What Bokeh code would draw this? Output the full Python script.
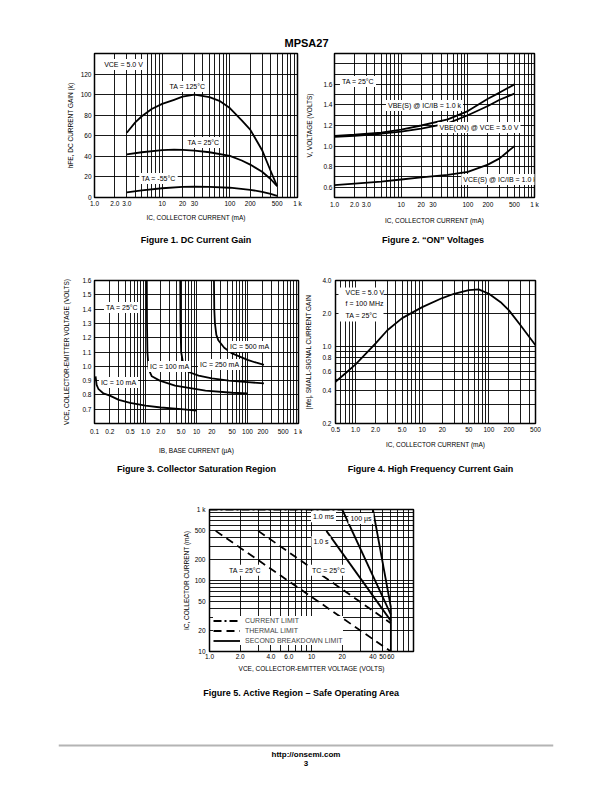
from bokeh.plotting import figure
from bokeh.models import Range1d, FixedTicker, Label, Span, BoxAnnotation, Legend
from bokeh.layouts import column, row
from bokeh.embed import file_html
from bokeh.resources import INLINE

FONT = "Liberation Sans"
TXT = "6.5px"
LBL = "7px"
PAGE_W = 604
STRIP_L = 58
STRIP_R = 553

# ---------------- Figure 1: DC current gain ----------------
f1_ic_125 = [3, 4, 5, 7, 10, 15, 20, 30, 50, 70, 100, 150, 200, 300, 400, 500]
f1_hfe_125 = [63, 73, 79, 86, 91, 95, 98, 100, 97.5, 94, 87, 75, 66, 46, 26, 11]
f1_ic_25 = [3, 5, 10, 15, 20, 30, 50, 100, 150, 200, 300, 400, 500]
f1_hfe_25 = [42, 44, 46, 46.5, 46.3, 45.5, 44, 40.5, 36, 32, 25, 18, 11]
f1_ic_m55 = [3, 5, 10, 20, 30, 50, 100, 200, 300, 400, 500]
f1_hfe_m55 = [5, 7, 9, 10.3, 10.5, 10.3, 9.5, 7.5, 5.5, 3.5, 1.5]
f1_x_ticks = [1, 2, 3, 10, 20, 30, 100, 200, 500, 1000]
f1_x_labels = ["1.0", "2.0", "3.0", "10", "20", "30", "100", "200", "500", "1 k"]
f1_y_ticks = [0, 20, 40, 60, 80, 100, 120]
f1_y_labels = ["0", "20", "40", "60", "80", "100", "120"]
f1_y_grid = [0, 20, 40, 60, 80, 100, 120, 140]

# ---------------- Figure 2: "ON" voltages ----------------
f2_ic = [1, 2, 5, 10, 20, 50, 100, 200, 300, 500]
f2_vbe_sat = [1.10, 1.11, 1.13, 1.16, 1.20, 1.26, 1.34, 1.46, 1.52, 1.60]
f2_vbe_on = [1.09, 1.10, 1.12, 1.14, 1.17, 1.22, 1.30, 1.39, 1.45, 1.51]
f2_vce_sat = [0.62, 0.635, 0.655, 0.675, 0.695, 0.72, 0.75, 0.82, 0.88, 1.00]
f2_y_ticks = [0.6, 0.8, 1.0, 1.2, 1.4, 1.6]
f2_y_labels = ["0.6", "0.8", "1.0", "1.2", "1.4", "1.6"]
f2_y_grid = [0.5, 0.6, 0.7, 0.8, 0.9, 1.0, 1.1, 1.2, 1.3, 1.4, 1.5, 1.6, 1.7, 1.8, 1.9]

# ---------------- Figure 3: collector saturation region ----------------
f3_ib_10 = [0.105, 0.11, 0.12, 0.15, 0.2, 0.3, 0.5, 1, 2, 5, 10]
f3_vce_10 = [0.93, 0.87, 0.84, 0.81, 0.795, 0.765, 0.745, 0.725, 0.712, 0.70, 0.69]
f3_ib_100 = [1.06, 1.07, 1.09, 1.15, 1.33, 1.9, 3.8, 15, 50, 100]
f3_vce_100 = [1.6, 1.3, 1.1, 0.98, 0.93, 0.90, 0.865, 0.83, 0.815, 0.81]
f3_ib_250 = [4.8, 4.85, 5.0, 5.6, 7, 11, 20, 43, 100, 210]
f3_vce_250 = [1.6, 1.3, 1.1, 1.0, 0.96, 0.935, 0.915, 0.90, 0.89, 0.88]
f3_ib_500 = [22, 22.3, 23, 24.5, 27, 35, 50, 100, 150, 210]
f3_vce_500 = [1.6, 1.4, 1.3, 1.22, 1.18, 1.13, 1.09, 1.045, 1.025, 1.01]
f3_x_ticks = [0.1, 0.2, 0.5, 1, 2, 5, 10, 20, 50, 100, 200, 500, 1000]
f3_x_labels = ["0.1", "0.2", "0.5", "1.0", "2.0", "5.0", "10", "20", "50", "100", "200", "500", "1 k"]
f3_y_ticks = [0.7, 0.8, 0.9, 1.0, 1.1, 1.2, 1.3, 1.4, 1.5, 1.6]
f3_y_labels = ["0.7", "0.8", "0.9", "1.0", "1.1", "1.2", "1.3", "1.4", "1.5", "1.6"]
f3_y_grid = [0.6, 0.7, 0.8, 0.9, 1.0, 1.1, 1.2, 1.3, 1.4, 1.5, 1.6]

# ---------------- Figure 4: high frequency current gain ----------------
f4_ic = [0.5, 0.7, 1.0, 1.5, 2.0, 3.0, 5.0, 10, 20, 30, 50, 70, 100, 150, 200, 300, 500]
f4_hfe = [0.48, 0.57, 0.69, 0.89, 1.07, 1.41, 1.82, 2.29, 2.77, 3.03, 3.27, 3.32, 3.03, 2.54, 2.14, 1.56, 1.03]
f4_x_ticks = [0.5, 1, 2, 5, 10, 20, 50, 100, 200, 500]
f4_x_labels = ["0.5", "1.0", "2.0", "5.0", "10", "20", "50", "100", "200", "500"]
f4_y_ticks = [0.2, 0.4, 0.6, 0.8, 1, 2, 4]
f4_y_labels = ["0.2", "0.4", "0.6", "0.8", "1.0", "2.0", "4.0"]
f4_y_grid = [0.2, 0.3, 0.4, 0.5, 0.6, 0.7, 0.8, 0.9, 1, 2, 3, 4]

# ---------------- Figure 5: safe operating area ----------------
f5_cur_v = [1.0, 20]
f5_cur_i = [1000, 1000]
f5_ta_v = [1.15, 60]
f5_ta_i = [500, 10]
f5_tc_v = [3.0, 60]
f5_tc_i = [500, 25]
f5_1s_v = [14, 60]
f5_1s_i = [500, 27]
f5_1ms_v = [20, 60]
f5_1ms_i = [1000, 33]
f5_100us_v = [40, 60]
f5_100us_i = [1000, 42]
f5_bv_v = [60, 60]
f5_bv_i = [10, 42]
f5_x_ticks = [1, 2, 4, 6, 10, 20, 40, 50, 60]
f5_x_labels = ["1.0", "2.0", "4.0", "6.0", "10", "20", "40", "50", "60"]
f5_y_ticks = [10, 20, 50, 100, 200, 500, 1000]
f5_y_labels = ["10", "20", "50", "100", "200", "500", "1 k"]


def log_grid(lo, hi, e0, e1):
    return [m * 10.0 ** e for e in range(e0, e1 + 1) for m in range(1, 10)
            if lo * 0.999 <= m * 10.0 ** e <= hi * 1.001]


def chart(w, h, bl, br, bt, bb, xr, yr, yt="linear"):
    p = figure(width=w, height=h, x_axis_type="log", y_axis_type=yt,
               x_range=Range1d(*xr), y_range=Range1d(*yr),
               output_backend="svg", toolbar_location=None,
               min_border_left=bl, min_border_right=br,
               min_border_top=bt, min_border_bottom=bb)
    p.outline_line_color = "black"
    p.outline_line_width = 1.5
    p.background_fill_color = "white"
    p.border_fill_color = "white"
    return p


def text_strip(h):
    # frame spans page x STRIP_L..STRIP_R, so data x equals page x
    p = figure(width=PAGE_W, height=h, output_backend="svg", toolbar_location=None,
               x_range=Range1d(STRIP_L, STRIP_R), y_range=Range1d(0, h),
               min_border_left=STRIP_L, min_border_right=PAGE_W - STRIP_R,
               min_border_top=0, min_border_bottom=0,
               x_axis_location=None, y_axis_location=None)
    p.grid.visible = False
    p.outline_line_color = None
    p.border_fill_color = "white"
    p.background_fill_color = "white"
    return p


def setup_axis(ax, ticks, labels, title, ls, ts):
    ax.ticker = FixedTicker(ticks=ticks, minor_ticks=[])
    ax.major_label_overrides = {t: l for t, l in zip(ticks, labels)}
    ax.axis_label = title
    ax.axis_label_text_font = FONT
    ax.axis_label_text_font_size = TXT
    ax.axis_label_text_font_style = "normal"
    ax.axis_label_text_color = "black"
    ax.major_label_text_font = FONT
    ax.major_label_text_font_size = TXT
    ax.major_label_text_color = "black"
    ax.major_tick_in = 0
    ax.major_tick_out = 0
    ax.minor_tick_in = 0
    ax.minor_tick_out = 0
    ax.axis_line_color = None
    ax.major_label_standoff = ls
    ax.axis_label_standoff = ts


def setup_grid(p, gx, gy):
    p.xgrid[0].ticker = FixedTicker(ticks=gx, minor_ticks=[])
    p.ygrid[0].ticker = FixedTicker(ticks=gy, minor_ticks=[])
    for g in (p.xgrid[0], p.ygrid[0]):
        g.grid_line_color = "black"
        g.grid_line_width = 0.9
        g.grid_line_alpha = 1.0


def tag(p, x, y, text, align="center", bg="white", size=LBL, bold=False, units="screen"):
    p.add_layout(Label(x=x, y=y, x_units=units, y_units=units, text=text,
                       text_font=FONT, text_font_size=size,
                       text_font_style="bold" if bold else "normal",
                       text_align=align, text_baseline="middle", text_color="black",
                       background_fill_color=bg, padding=2 if bg else 0))


def curve(p, x, y, **kw):
    return p.line(x, y, line_color="black", line_width=1.8, line_join="round", **kw)


# ---- header ----
header = text_strip(48)
tag(header, 306, 6, "MPSA27", bg=None, size="11px", bold=True, units="data")

# ---- figure 1 ----
p1 = chart(303, 180, 94, 6, 5, 31, (1, 1000), (0, 140))
setup_axis(p1.xaxis[0], f1_x_ticks, f1_x_labels, "IC, COLLECTOR CURRENT (mA)", 2, 4)
setup_axis(p1.yaxis[0], f1_y_ticks, f1_y_labels, "hFE, DC CURRENT GAIN (k)", 3, 4)
setup_grid(p1, log_grid(1, 1000, 0, 3), f1_y_grid)
curve(p1, f1_ic_125, f1_hfe_125)
curve(p1, f1_ic_25, f1_hfe_25)
curve(p1, f1_ic_m55, f1_hfe_m55)
tag(p1, 29, 133, "VCE = 5.0 V")
tag(p1, 93, 111, "TA = 125°C")
tag(p1, 109, 55, "TA = 25°C")
tag(p1, 64, 19, "TA = -55°C")

# ---- figure 2 ----
p2 = chart(301, 180, 27, 70, 5, 31, (1, 1000), (0.5, 1.9))
setup_axis(p2.xaxis[0], f1_x_ticks, f1_x_labels, "IC, COLLECTOR CURRENT (mA)", 3, 6)
setup_axis(p2.yaxis[0], f2_y_ticks, f2_y_labels, "V, VOLTAGE (VOLTS)", 2, 7)
setup_grid(p2, log_grid(1, 1000, 0, 3), f2_y_grid)
curve(p2, f2_ic, f2_vbe_sat)
curve(p2, f2_ic, f2_vbe_on)
curve(p2, f2_ic, f2_vce_sat)
tag(p2, 23.5, 116, "TA = 25°C")
tag(p2, 90, 92, "VBE(S) @ IC/IB = 1.0 k")
tag(p2, 144.5, 70, "VBE(ON) @ VCE = 5.0 V")
tag(p2, 165.5, 18, "VCE(S) @ IC/IB = 1.0 k")

cap1 = text_strip(22)
tag(cap1, 195.5, 11, "Figure 1. DC Current Gain", bg=None, size="9px", bold=True, units="data")
tag(cap1, 432.5, 11, "Figure 2. \u201cON\u201d Voltages", bg=None, size="9px", bold=True, units="data")

# ---- figure 3 ----
p3 = chart(302, 206, 94, 4, 30, 32, (0.1, 1000), (0.6, 1.6))
setup_axis(p3.xaxis[0], f3_x_ticks, f3_x_labels, "IB, BASE CURRENT (\u00b5A)", 4, 9)
setup_axis(p3.yaxis[0], f3_y_ticks, f3_y_labels, "VCE, COLLECTOR-EMITTER VOLTAGE (VOLTS)", 3, 9)
setup_grid(p3, log_grid(0.1, 1000, -1, 3), f3_y_grid)
curve(p3, f3_ib_10, f3_vce_10)
curve(p3, f3_ib_100, f3_vce_100)
curve(p3, f3_ib_250, f3_vce_250)
curve(p3, f3_ib_500, f3_vce_500)
tag(p3, 27.5, 116, "TA = 25°C")
tag(p3, 24, 41, "IC = 10 mA")
tag(p3, 75, 57, "IC = 100 mA")
tag(p3, 125, 59, "IC = 250 mA")
tag(p3, 155, 77, "IC = 500 mA")

# ---- figure 4 ----
p4 = chart(302, 206, 28, 69, 30, 32, (0.5, 500), (0.2, 4.0), yt="log")
setup_axis(p4.xaxis[0], f4_x_ticks, f4_x_labels, "IC, COLLECTOR CURRENT (mA)", 3, 6)
setup_axis(p4.yaxis[0], f4_y_ticks, f4_y_labels, "|hfe|, SMALL-SIGNAL CURRENT GAIN", 4, 7)
setup_grid(p4, log_grid(0.5, 500, -1, 2), f4_y_grid)
curve(p4, f4_ic, f4_hfe)
p4.add_layout(BoxAnnotation(left=3, right=48, bottom=102, top=136, left_units="screen",
                            right_units="screen", bottom_units="screen", top_units="screen",
                            fill_color="white", fill_alpha=1.0, line_color=None))
tag(p4, 10, 130.7, "VCE = 5.0 V", align="left", bg=None)
tag(p4, 10, 119.7, "f = 100 MHz", align="left", bg=None)
tag(p4, 10, 108.3, "TA = 25°C", align="left", bg=None)

cap2 = text_strip(22)
tag(cap2, 196, 10, "Figure 3. Collector Saturation Region", bg=None, size="9px", bold=True, units="data")
tag(cap2, 430, 10, "Figure 4. High Frequency Current Gain", bg=None, size="9px", bold=True, units="data")

# ---- figure 5 ----
p5 = chart(PAGE_W, 202, 209, 191, 31, 29, (1, 100), (10, 1000), yt="log")
setup_axis(p5.xaxis[0], f5_x_ticks, f5_x_labels, "VCE, COLLECTOR-EMITTER VOLTAGE (VOLTS)", 2, 3)
setup_axis(p5.yaxis[0], f5_y_ticks, f5_y_labels, "IC, COLLECTOR CURRENT (mA)", 4, 2)
setup_grid(p5, log_grid(1, 100, 0, 2), log_grid(10, 1000, 1, 3))
r_cur = curve(p5, f5_cur_v, f5_cur_i, line_dash="8 3 2 3")
r_th = curve(p5, f5_ta_v, f5_ta_i, line_dash="8 5")
curve(p5, f5_tc_v, f5_tc_i, line_dash="8 5")
r_sb = curve(p5, f5_1s_v, f5_1s_i)
curve(p5, f5_1ms_v, f5_1ms_i)
curve(p5, f5_100us_v, f5_100us_i)
curve(p5, f5_bv_v, f5_bv_i)
leg = Legend(items=[("CURRENT LIMIT", [r_cur]), ("THERMAL LIMIT", [r_th]),
                    ("SECOND BREAKDOWN LIMIT", [r_sb])],
             location=(4, 6), label_text_font=FONT, label_text_font_size=LBL,
             glyph_width=27, glyph_height=9, label_height=9, label_standoff=5,
             spacing=1, padding=3, margin=0, border_line_color=None,
             background_fill_color="white", background_fill_alpha=1.0)
p5.add_layout(leg)
tag(p5, 114, 134.7, "1.0 ms")
tag(p5, 151.5, 133, "100 \u00b5s")
tag(p5, 111.5, 109.7, "1.0 s")
tag(p5, 35.5, 81.3, "TA = 25°C")
tag(p5, 119, 81.3, "TC = 25°C")

cap3 = text_strip(25)
tag(cap3, 301, 13, "Figure 5. Active Region \u2013 Safe Operating Area", bg=None, size="9px", bold=True, units="data")

# ---- footer ----
footer = text_strip(75)
footer.add_layout(Span(location=35, dimension="width", line_color="#b4b4b4", line_width=2))
tag(footer, 305.5, 26, "http://onsemi.com", bg=None, size="8px", bold=True, units="data")
tag(footer, 305.5, 17, "3", bg=None, size="8px", bold=True, units="data")

layout = column(header, row(p1, p2), cap1, row(p3, p4), cap2, row(p5), cap3, footer)
open("out.html", "w").write(file_html(layout, INLINE))
